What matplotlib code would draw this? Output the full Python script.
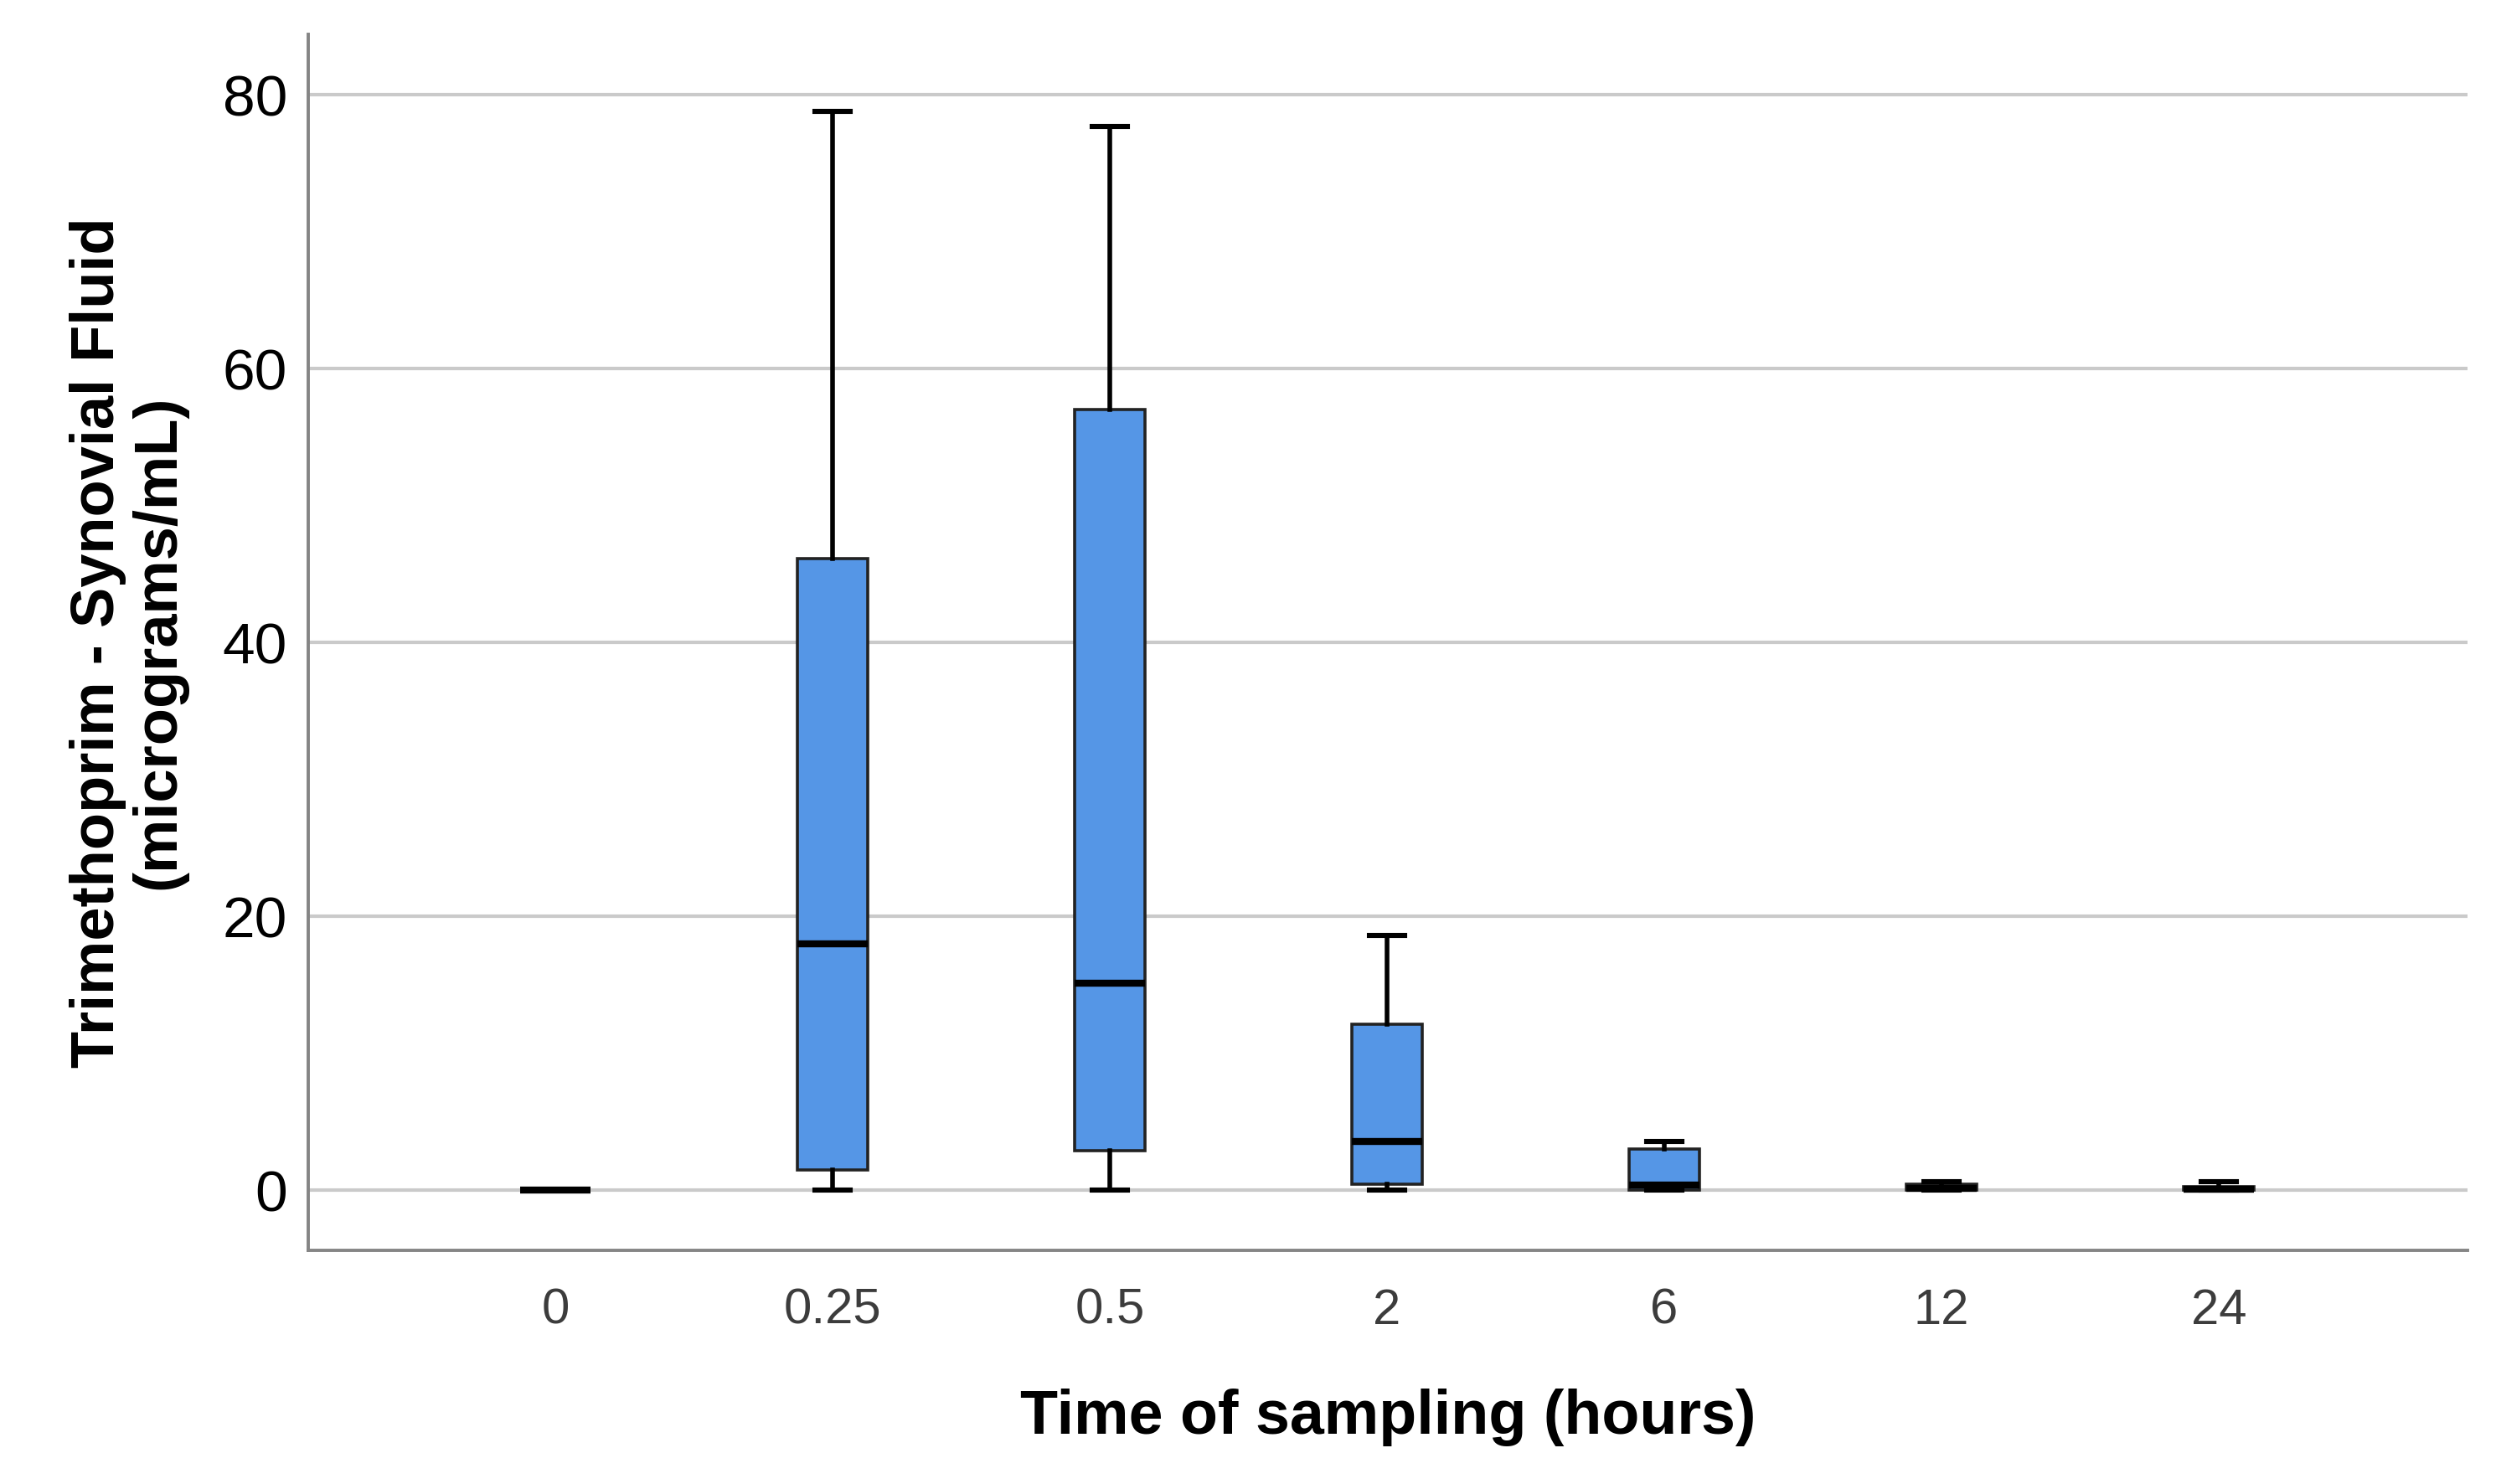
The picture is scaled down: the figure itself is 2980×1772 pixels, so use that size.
import matplotlib
matplotlib.use('Agg')
import matplotlib.pyplot as plt

# box statistics (micrograms/mL)
times = ['0', '0.25', '0.5', '2', '6', '12', '24']
whislo = [0, 0, 0, 0, 0, 0, 0]
q1 = [0, 1.5, 2.9, 0.45, 0.0, 0.0, 0.0]
med = [0, 18.0, 15.1, 3.55, 0.35, 0.15, 0.05]
q3 = [0, 46.1, 57.0, 12.1, 3.0, 0.45, 0.25]
whishi = [0, 78.8, 77.7, 18.6, 3.55, 0.65, 0.65]

plt.rcParams['font.family'] = ['Liberation Sans', 'DejaVu Sans']

stats = []
for i in range(len(times)):
    stats.append({'label': times[i], 'whislo': whislo[i], 'q1': q1[i], 'med': med[i],
                  'q3': q3[i], 'whishi': whishi[i], 'fliers': []})

fig = plt.figure(figsize=(14.9, 8.86), dpi=200)
ax = fig.add_axes([0.1235, 0.1574, 0.8651, 0.8194])

ax.bxp(stats, positions=range(len(times)), widths=0.253, capwidths=0.127,
       patch_artist=True, showfliers=False,
       boxprops=dict(facecolor='#5596e6', edgecolor='#222222', linewidth=1.3),
       medianprops=dict(color='black', linewidth=3.0),
       whiskerprops=dict(color='black', linewidth=2.0),
       capprops=dict(color='black', linewidth=2.2),
       zorder=3)

ax.set_xlim(-0.891, 6.897)
ax.set_ylim(-4.4, 84.4)
ax.set_yticks([0, 20, 40, 60, 80])
ax.yaxis.grid(True, color='#cacaca', linewidth=1.5, zorder=0)
ax.set_axisbelow(True)

for s in ['top', 'right']:
    ax.spines[s].set_visible(False)
for s in ['left', 'bottom']:
    ax.spines[s].set_color('#858585')
    ax.spines[s].set_linewidth(1.4)

ax.tick_params(axis='y', length=0, pad=9, labelsize=25, labelcolor='black')
ax.tick_params(axis='x', length=0, pad=16, labelsize=21.5, labelcolor='#3c3c3c')

ax.set_ylabel('Trimethoprim - Synovial Fluid\n(micrograms/mL)', fontsize=26, fontweight='bold',
              linespacing=1.07)
ax.yaxis.set_label_coords(-0.0562, 0.5)
ax.set_xlabel('Time of sampling (hours)', fontsize=26.5, fontweight='bold')
ax.xaxis.set_label_coords(0.5, -0.1137)

fig.savefig('out.png', dpi=200)
